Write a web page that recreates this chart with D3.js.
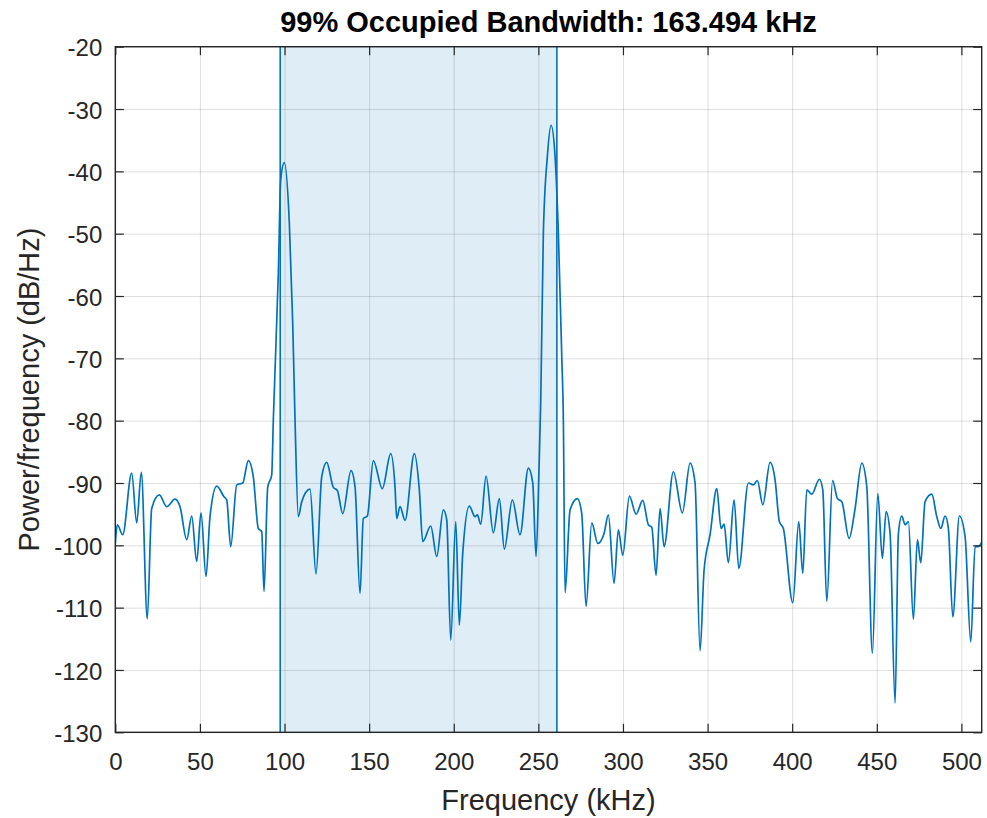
<!DOCTYPE html>
<html>
<head>
<meta charset="utf-8">
<script src="https://cdn.jsdelivr.net/npm/d3@7"></script>
<style>
  html, body { margin: 0; padding: 0; background: #ffffff; }
  svg { display: block; }
  text { font-family: "Liberation Sans", Arial, Helvetica, sans-serif; }
</style>
</head>
<body>
<svg id="chart" width="987" height="818"></svg>
<script>
// Power spectral density estimate (kHz, dB/Hz)
const freqKHz = [
  0, 1.18, 4.37, 9.69, 12.65, 15.37, 18.91, 21.51, 26.0, 30.38,
  35.28, 38.24, 42.2, 45.15, 48.11, 50.65, 53.61, 55.97, 59.93, 64.24,
  65.84, 68.2, 71.75, 75.3, 78.6, 81.56, 84.52, 86.52, 87.88, 90.07,
  92.44, 93.38, 96.34, 97.75, 99.88, 102.84, 104.85, 106.21, 108.16, 110.17,
  115.07, 118.62, 121.99, 124.94, 128.84, 131.21, 134.4, 139.3, 141.67, 144.62,
  146.57, 148.94, 152.48, 157.8, 162.77, 165.31, 166.31, 168.26, 171.22, 176.71,
  179.67, 181.68, 186.41, 189.95, 193.85, 195.86, 198.23, 201.18, 203.31, 205.32,
  209.22, 212.59, 213.95, 215.96, 219.09, 223.41, 226.95, 229.9, 234.64, 239.18,
  244.09, 246.69, 248.64, 250.42, 251.42, 252.96, 255.32, 257.51, 259.87, 261.82,
  263.83, 264.78, 265.78, 268.74, 273.05, 275.65, 278.19, 281.56, 285.11, 288.83,
  291.37, 294.74, 297.28, 299.89, 303.79, 307.75, 311.71, 315.01, 317.02, 319.56,
  321.93, 324.29, 329.79, 335.11, 339.66, 342.61, 345.57, 347.93, 351.48, 355.44,
  357.98, 359.76, 362.3, 365.67, 368.45, 374.12, 377.07, 379.44, 382.63, 386.94,
  389.9, 392.44, 394.8, 400.36, 403.9, 406.27, 408.63, 411.59, 416.08, 418.09,
  420.45, 423.88, 426.72, 429.32, 433.63, 437.18, 441.14, 444.09, 447.4, 450.6,
  453.31, 455.5, 457.86, 460.82, 462.77, 464.78, 466.73, 468.68, 471.63, 473.99,
  476.0, 478.54, 482.5, 485.46, 487.82, 490.36, 492.31, 494.91, 498.81, 502.18,
  505.55, 508.09, 510.04, 512
];
const psdDb = [
  -99.7, -96.7, -98.3, -88.4, -96.4, -88.3, -111.8, -94.1, -91.9, -93.8,
  -92.6, -93.8, -99.1, -95.3, -102.6, -94.8, -105.0, -95.4, -90.5, -92.2,
  -92.7, -100.2, -90.3, -90.0, -86.4, -89.0, -97.3, -97.8, -107.4, -90.7,
  -88.7, -79.9, -56.4, -41.4, -38.6, -48.3, -64.4, -79.9, -95.4, -93.0,
  -91.0, -104.6, -89.0, -86.7, -90.7, -91.2, -94.9, -88.0, -90.6, -107.7,
  -95.7, -95.3, -86.4, -90.9, -85.3, -90.7, -95.7, -93.8, -96.0, -85.3,
  -91.1, -99.4, -96.9, -101.8, -94.3, -95.9, -115.2, -96.2, -112.8, -101.3,
  -93.7, -95.4, -95.1, -96.6, -88.9, -98.0, -92.5, -100.6, -92.7, -98.3,
  -87.6, -90.0, -101.8, -87.4, -76.7, -49.9, -37.6, -32.6, -37.6, -49.9,
  -69.7, -79.9, -107.6, -94.3, -92.5, -94.9, -109.8, -96.4, -99.7, -98.1,
  -95.1, -106.1, -97.5, -101.6, -92.1, -95.0, -92.8, -96.7, -97.1, -104.8,
  -94.1, -100.2, -88.2, -94.8, -86.8, -90.0, -116.9, -104.0, -98.3, -90.9,
  -97.3, -96.6, -102.8, -92.7, -103.7, -90.0, -90.3, -89.6, -93.5, -86.7,
  -89.5, -96.2, -97.3, -109.2, -96.2, -104.5, -91.1, -91.8, -89.4, -91.1,
  -109.0, -89.6, -92.5, -93.0, -98.9, -94.1, -86.8, -90.6, -117.3, -91.7,
  -102.1, -94.6, -98.1, -125.3, -98.1, -95.3, -96.7, -96.2, -111.9, -99.1,
  -102.8, -93.0, -91.8, -95.4, -97.3, -95.3, -97.3, -111.5, -95.3, -98.6,
  -115.5, -100.2, -100.2, -99.5
];

// 99% occupied band edges (kHz)
const occupiedBW = 163.494;
const bandLo = 97.45;
const bandHi = bandLo + occupiedBW;

const xTicks = [0, 50, 100, 150, 200, 250, 300, 350, 400, 450, 500];
const yTicks = [-130, -120, -110, -100, -90, -80, -70, -60, -50, -40, -30, -20];

const titleText = `99% Occupied Bandwidth: ${occupiedBW.toFixed(3)} kHz`;
const xLabel = "Frequency (kHz)";
const yLabel = "Power/frequency (dB/Hz)";

// Layout
const plot = { left: 115.3, right: 981.7, top: 46.7, bottom: 732.3 };
const axisColor = "#262626";
const lineColor = "#0072BD";
const tickLen = 8.5;
const plainNum = d => String(d);   // ASCII hyphen for negatives

const svg = d3.select("#chart");

const x = d3.scaleLinear().domain([0, 512]).range([plot.left, plot.right]);
const y = d3.scaleLinear().domain([-130, -20]).range([plot.bottom, plot.top]);

const defs = svg.append("defs");
defs.append("clipPath").attr("id", "plotClip")
  .append("rect")
  .attr("x", plot.left).attr("y", plot.top)
  .attr("width", plot.right - plot.left).attr("height", plot.bottom - plot.top);

// Shaded occupied band
svg.append("rect")
  .attr("x", x(bandLo)).attr("y", plot.top)
  .attr("width", x(bandHi) - x(bandLo))
  .attr("height", plot.bottom - plot.top)
  .attr("fill", lineColor)
  .attr("fill-opacity", 0.13);

// Grid
const grid = svg.append("g").attr("class", "grid");
grid.append("g")
  .attr("transform", `translate(0,${plot.bottom})`)
  .call(d3.axisBottom(x).tickValues(xTicks).tickSize(-(plot.bottom - plot.top)).tickFormat(""))
  .call(g => g.select(".domain").remove());
grid.append("g")
  .attr("transform", `translate(${plot.left},0)`)
  .call(d3.axisLeft(y).tickValues(yTicks).tickSize(-(plot.right - plot.left)).tickFormat(""))
  .call(g => g.select(".domain").remove());
grid.selectAll("line")
  .attr("stroke", axisColor)
  .attr("stroke-opacity", 0.15)
  .attr("stroke-width", 1);

// Spectrum
const spectrum = freqKHz.map((f, i) => ({ f, v: psdDb[i] }));
const line = d3.line()
  .x(d => x(d.f))
  .y(d => y(d.v))
  .curve(d3.curveMonotoneX);

svg.append("path")
  .datum(spectrum)
  .attr("clip-path", "url(#plotClip)")
  .attr("d", line)
  .attr("fill", "none")
  .attr("stroke", lineColor)
  .attr("stroke-width", 1.7)
  .attr("stroke-linejoin", "round");

// Band edge lines
svg.selectAll(".edge")
  .data([bandLo, bandHi])
  .join("line")
  .attr("class", "edge")
  .attr("x1", d => x(d)).attr("x2", d => x(d))
  .attr("y1", plot.top).attr("y2", plot.bottom)
  .attr("stroke", lineColor)
  .attr("stroke-width", 1.6);

// Axes with inward ticks on all four sides
const fontTick = 24;
const xAxisB = svg.append("g")
  .attr("transform", `translate(0,${plot.bottom})`)
  .call(d3.axisBottom(x).tickValues(xTicks).tickFormat(plainNum)
    .tickSizeInner(-tickLen).tickSizeOuter(0).tickPadding(21));
const xAxisT = svg.append("g")
  .attr("transform", `translate(0,${plot.top})`)
  .call(d3.axisTop(x).tickValues(xTicks).tickSizeInner(-tickLen).tickSizeOuter(0).tickFormat(""));
const yAxisL = svg.append("g")
  .attr("transform", `translate(${plot.left},0)`)
  .call(d3.axisLeft(y).tickValues(yTicks).tickFormat(plainNum)
    .tickSizeInner(-tickLen).tickSizeOuter(0).tickPadding(13));
const yAxisR = svg.append("g")
  .attr("transform", `translate(${plot.right},0)`)
  .call(d3.axisRight(y).tickValues(yTicks).tickSizeInner(-tickLen).tickSizeOuter(0).tickFormat(""));

[xAxisB, xAxisT, yAxisL, yAxisR].forEach(g => {
  g.select(".domain").remove();
  g.selectAll(".tick line").attr("stroke", axisColor).attr("stroke-width", 1.2);
  g.selectAll(".tick text")
    .attr("fill", axisColor)
    .style("font-family", '"Liberation Sans", Arial, Helvetica, sans-serif')
    .style("font-size", fontTick + "px");
});
yAxisL.selectAll(".tick text").attr("dy", "0.38em");

// Axes box
svg.append("rect")
  .attr("x", plot.left).attr("y", plot.top)
  .attr("width", plot.right - plot.left)
  .attr("height", plot.bottom - plot.top)
  .attr("fill", "none")
  .attr("stroke", axisColor)
  .attr("stroke-width", 1.4);

// Title and labels
svg.append("text")
  .attr("x", (plot.left + plot.right) / 2)
  .attr("y", 31.5)
  .attr("text-anchor", "middle")
  .attr("fill", "#000000")
  .style("font-size", "29px")
  .style("font-weight", "bold")
  .text(titleText);

svg.append("text")
  .attr("x", (plot.left + plot.right) / 2)
  .attr("y", 810)
  .attr("text-anchor", "middle")
  .attr("fill", axisColor)
  .style("font-size", "29px")
  .text(xLabel);

svg.append("text")
  .attr("transform", `translate(39,${(plot.top + plot.bottom) / 2}) rotate(-90)`)
  .attr("text-anchor", "middle")
  .attr("fill", axisColor)
  .style("font-size", "29px")
  .text(yLabel);
</script>
</body>
</html>
